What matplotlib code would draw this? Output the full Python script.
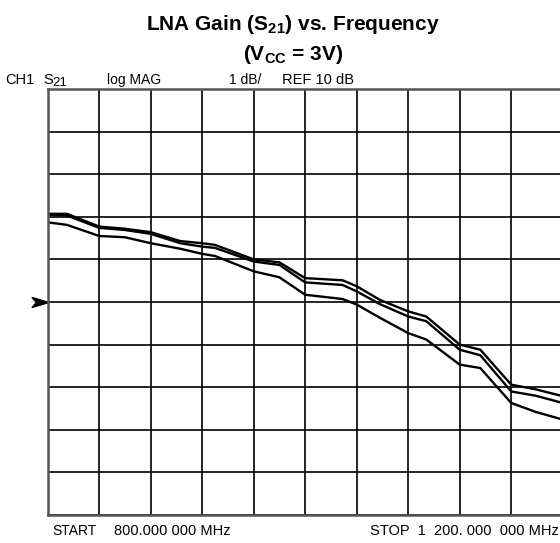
import matplotlib
matplotlib.use("Agg")
import matplotlib.pyplot as plt
from matplotlib.path import Path
import numpy as np

plt.rcParams['font.family'] = ['Liberation Sans', 'DejaVu Sans']
plt.rcParams['mathtext.fontset'] = 'custom'
plt.rcParams['mathtext.rm'] = 'Liberation Sans'
plt.rcParams['mathtext.bf'] = 'Liberation Sans:bold'
plt.rcParams['mathtext.default'] = 'regular'

# Data (frequency in MHz, gain in dB)
freq_mhz = [800, 815, 840, 860, 880, 903, 920, 930, 960, 980, 1000, 1029,
            1040, 1058, 1080, 1094, 1120, 1136, 1160, 1179, 1200]
gain_top = [12.07, 12.07, 11.77, 11.72, 11.64, 11.43, 11.38, 11.34, 11.00, 10.93,
            10.56, 10.51, 10.37, 10.05, 9.78, 9.66, 9.00, 8.88, 8.06, 7.95, 7.79]
gain_mid = [12.05, 12.03, 11.74, 11.69, 11.60, 11.38, 11.30, 11.27, 10.95, 10.87,
            10.46, 10.40, 10.25, 9.95, 9.66, 9.55, 8.88, 8.75, 7.90, 7.80, 7.63]
gain_low = [11.87, 11.81, 11.55, 11.52, 11.38, 11.25, 11.13, 11.08, 10.72, 10.58,
            10.17, 10.07, 9.94, 9.63, 9.27, 9.12, 8.53, 8.45, 7.63, 7.42, 7.24]

ref_db = 10
db_per_div = 1
start_mhz = 800
stop_mhz = 1200

W, H = 560, 543
fig = plt.figure(figsize=(W / 100, H / 100), dpi=100)
left_px, right_px, top_px, bot_px = 47.7, 562.7, 89.0, 515.0
ax = fig.add_axes([left_px / W, 1 - bot_px / H, (right_px - left_px) / W,
                   (bot_px - top_px) / H])

ax.set_xlim(start_mhz, stop_mhz)
ax.set_ylim(ref_db - 5 * db_per_div, ref_db + 5 * db_per_div)
ax.set_xticks(np.linspace(start_mhz, stop_mhz, 11))
ax.set_yticks(np.arange(ref_db - 5, ref_db + 6, db_per_div))
ax.tick_params(length=0, labelbottom=False, labelleft=False)
ax.grid(True, color='black', lw=1.2)
for s in ax.spines.values():
    s.set_color('#555555')
    s.set_linewidth(1.8)

for g in (gain_top, gain_mid, gain_low):
    ax.plot(freq_mhz, g, color='black', lw=1.7, solid_joinstyle='miter')

# reference arrow marker
arrow = Path([(-1, 0.6), (1, 0), (-1, -0.6), (-0.5, 0), (-1, 0.6)],
             [Path.MOVETO, Path.LINETO, Path.LINETO, Path.LINETO, Path.CLOSEPOLY])
ax.plot([-0.015], [ref_db], marker=arrow, markersize=12, color='black',
        transform=ax.get_yaxis_transform(), clip_on=False)

# titles
fig.text(293 / W, 1 - 24 / H, r"LNA Gain (S$_{21}$) vs. Frequency", ha='center',
         va='center', fontsize=15, fontweight='bold')
fig.text(293 / W, 1 - 54 / H, r"(V$_{CC}$ = 3V)", ha='center', va='center',
         fontsize=15, fontweight='bold')

# header
hy = 1 - 80 / H
fs = 10
fig.text(5 / W, hy, "CH1", ha='left', va='center', fontsize=10.5)
fig.text(43 / W, hy, "S", ha='left', va='center', fontsize=10.5)
fig.text(52 / W, hy - 3 / H, "21", ha='left', va='center', fontsize=9.5)
fig.text(107 / W, hy, "log MAG", ha='left', va='center', fontsize=fs)
fig.text(229 / W, hy, "1 dB/", ha='left', va='center', fontsize=fs)
fig.text(282 / W, hy, "REF 10 dB", ha='left', va='center', fontsize=10.5)

# footer
fy = 1 - 531 / H
fig.text(52 / W, fy, "START", ha='left', va='center', fontsize=fs)
fig.text(114 / W, fy, "800.000 000 MHz", ha='left', va='center', fontsize=10.5)
fig.text(559 / W, fy, "STOP  1  200. 000  000 MHz", ha='right', va='center',
         fontsize=10.5)

fig.savefig("out.png", dpi=100)
